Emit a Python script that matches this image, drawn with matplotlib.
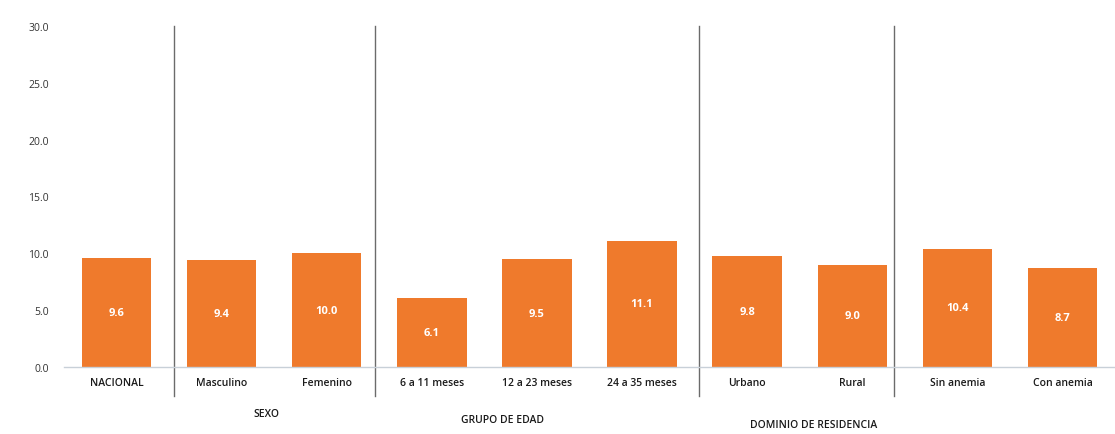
import matplotlib
matplotlib.use("Agg")
import matplotlib.pyplot as plt
from matplotlib.ticker import FormatStrFormatter

# Data
categories = ["NACIONAL", "Masculino", "Femenino", "6 a 11 meses", "12 a 23 meses",
              "24 a 35 meses", "Urbano", "Rural", "Sin anemia", "Con anemia"]
values = [9.6, 9.4, 10.0, 6.1, 9.5, 11.1, 9.8, 9.0, 10.4, 8.7]
group_names = ["SEXO", "GRUPO DE EDAD", "DOMINIO DE RESIDENCIA"]
group_centers = [1.43, 3.67, 6.63]
group_label_y = [-0.135, -0.155, -0.17]
separators = [0.55, 2.46, 5.54, 7.40]
y_ticks = [0, 5, 10, 15, 20, 25, 30]

plt.rcParams["font.family"] = ["Open Sans", "DejaVu Sans"]

fig = plt.figure(figsize=(11.15, 4.35), dpi=100)
ax = fig.add_axes([0.0574, 0.154, 0.9426, 0.784])

bar_color = "#EF7A2C"
x = range(len(categories))
ax.bar(x, values, width=0.66, color=bar_color, zorder=2)

for xi, v in zip(x, values):
    ax.text(xi, v / 2, f"{v:.1f}", ha="center", va="center",
            color="white", fontsize=8, fontweight="bold", zorder=3)

ax.set_xlim(-0.5, 9.5)
ax.set_ylim(0, 30)
ax.set_yticks(y_ticks)
ax.yaxis.set_major_formatter(FormatStrFormatter("%.1f"))
ax.set_xticks(list(x))
ax.set_xticklabels(categories, fontsize=7.5, color="#1a1a1a", fontweight="semibold")
ax.tick_params(axis="y", labelsize=7.5, labelcolor="#333333", length=0, pad=11)
ax.tick_params(axis="x", length=0, pad=7)

for s in ["top", "right", "left"]:
    ax.spines[s].set_visible(False)
ax.spines["bottom"].set_color("#c8d0d8")
ax.spines["bottom"].set_linewidth(1.0)

# Group separators extending below the category labels
for sx in separators:
    ax.axvline(sx, ymin=-0.085, ymax=1.0, color="#6b6b6b", linewidth=1.0,
               clip_on=False, zorder=1)

for name, cx, gy in zip(group_names, group_centers, group_label_y):
    ax.text(cx, gy, name, transform=ax.get_xaxis_transform(), ha="center",
            va="center", fontsize=7.5, color="#1a1a1a", fontweight="semibold",
            clip_on=False)

fig.savefig("out.png", dpi=100)
